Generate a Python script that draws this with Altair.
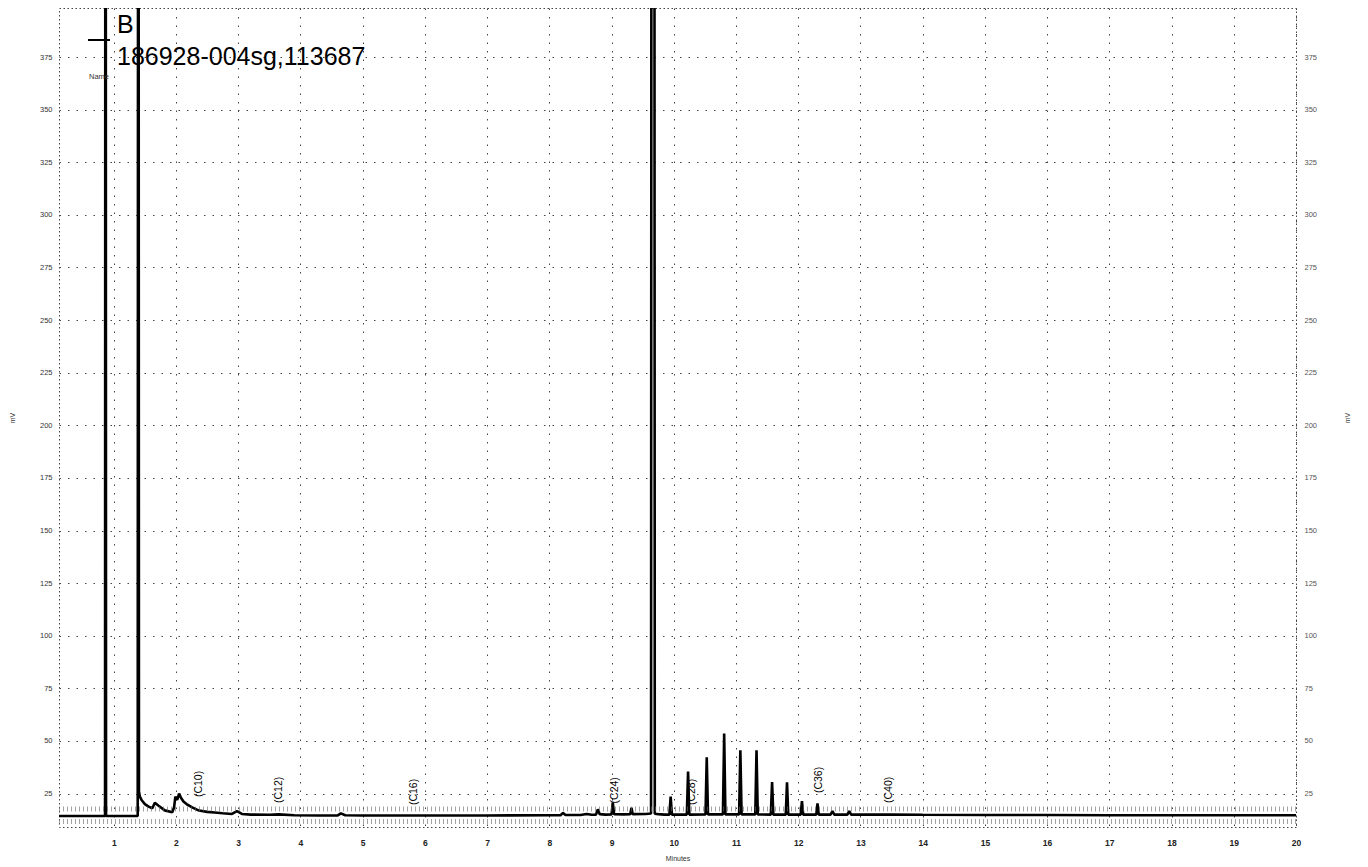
import altair as alt
import pandas as pd

# ---- data ----
trace_t = [0.12, 0.5, 0.86, 0.868, 0.876, 1.0, 1.385, 1.395, 1.405, 1.42, 1.45, 1.5, 1.56, 1.62,
           1.66, 1.72, 1.82, 1.94, 1.97, 1.99, 2.02, 2.05, 2.08, 2.12, 2.17, 2.26, 2.37, 2.5, 2.62,
           2.75, 2.9, 2.98, 3.06, 3.2, 3.5, 3.65, 3.9, 4.3, 4.6, 4.65, 4.72, 5.0, 6.0, 7.0, 8.0,
           8.18, 8.22, 8.26, 8.5, 8.6, 8.68, 8.75, 8.78, 8.81, 8.9, 9.0, 9.02, 9.04, 9.2, 9.3,
           9.32, 9.34, 9.55, 9.635, 9.665, 9.695, 9.75, 9.85, 9.93, 9.95, 9.97, 10.21, 10.23, 10.25,
           10.51, 10.53, 10.55, 10.79, 10.81, 10.83, 11.05, 11.07, 11.09, 11.31, 11.33, 11.35,
           11.56, 11.58, 11.60, 11.80, 11.82, 11.84, 12.04, 12.06, 12.08, 12.29, 12.31, 12.33,
           12.52, 12.55, 12.58, 12.79, 12.82, 12.85, 13.0, 13.5, 14.0, 15.0, 16.0, 17.0, 18.0,
           19.0, 20.0]
trace_mv = [14.3, 14.3, 14.3, 900, 14.3, 14.3, 14.3, 900, 26.0, 23.5, 21.8, 20.0, 18.8, 18.0,
            20.6, 19.2, 17.0, 16.1, 18.5, 23.5, 22.0, 25.0, 23.0, 21.2, 20.0, 18.4, 16.9, 16.3, 16.0,
            15.6, 15.3, 16.6, 15.3, 15.0, 14.9, 15.1, 14.7, 14.6, 14.6, 15.6, 14.7, 14.6, 14.6, 14.6, 14.7,
            14.7, 15.8, 14.8, 14.8, 15.3, 14.9, 15.0, 17.5, 15.2, 15.0, 15.1, 20.8, 15.2, 15.1, 15.2,
            18.3, 15.2, 15.3, 15.5, 2500, 15.4, 15.2, 15.0, 15.0, 23.5, 15.0, 15.0, 35.4, 15.0,
            15.1, 42.2, 15.1, 15.1, 53.5, 15.1, 15.1, 45.6, 15.1, 15.1, 45.6, 15.1,
            15.0, 30.5, 15.0, 15.0, 30.3, 15.0, 15.0, 21.4, 15.0, 15.0, 20.3, 15.0,
            15.0, 16.6, 15.0, 15.0, 16.6, 15.0, 15.0, 15.0, 14.9, 14.8, 14.8, 14.7, 14.7,
            14.7, 14.7]

peak_labels = ["(C10)", "(C12)", "(C16)", "(C24)", "(C28)", "(C36)", "(C40)"]
label_t = [2.37, 3.65, 5.82, 9.06, 10.30, 12.33, 13.46]
label_mv = [23.3, 20.5, 19.5, 20.3, 19.5, 25.2, 20.5]

band_mv = [17.6, 11.7]          # integration-mark band around the baseline

x_ticks = list(range(1, 21))
y_ticks = list(range(25, 400, 25))

legend_name = "B"
legend_sample = "186928-004sg,113687"
legend_header = "Name"

FONT = "Liberation Sans"

trace_df = pd.DataFrame({"t": trace_t, "mv": trace_mv, "i": list(range(len(trace_t)))})
label_df = pd.DataFrame({"t": label_t, "mv": label_mv, "label": peak_labels})
band_df = pd.DataFrame({"mv": band_mv})

xscale = alt.Scale(domain=[0.12, 20], nice=False, zero=False)
yscale = alt.Scale(domain=[9.1, 398.3], nice=False, zero=False)

xaxis = alt.Axis(values=x_ticks, format="d", title="Minutes", grid=True, gridDash=[1.5, 7],
                 gridColor="#444", gridWidth=1, ticks=False, domain=False, labelFlush=False,
                 labelFont=FONT, labelFontSize=8.5, labelFontWeight="bold", labelColor="#222",
                 labelPadding=11, titleFont=FONT, titleFontSize=7, titleFontWeight="normal",
                 titleColor="#333", titlePadding=8)
yaxis_left = alt.Axis(values=y_ticks, title="mV", orient="left", grid=True, gridDash=[1.5, 7],
                      gridColor="#444", gridWidth=1, ticks=False, domain=False,
                      labelFont=FONT, labelFontSize=7.5, labelColor="#333", labelPadding=7,
                      titleFont=FONT, titleFontSize=7, titleFontWeight="normal", titleColor="#333",
                      titleAngle=270, titlePadding=24)
yaxis_right = alt.Axis(values=y_ticks, title="mV", orient="right", grid=False, ticks=False,
                       domain=False, labelFont=FONT, labelFontSize=7.5, labelColor="#555",
                       labelPadding=8, titleFont=FONT, titleFontSize=7, titleFontWeight="normal",
                       titleColor="#444", titleAngle=270, titlePadding=34)

band = alt.Chart(band_df).mark_rule(color="#666", strokeWidth=5, strokeDash=[1, 3],
                                    opacity=0.6).encode(
    y=alt.Y("mv:Q", scale=yscale, axis=yaxis_right)
)

trace = alt.Chart(trace_df).mark_line(clip=True, color="black", strokeWidth=2.6,
                                      strokeJoin="bevel").encode(
    x=alt.X("t:Q", scale=xscale, axis=xaxis),
    y=alt.Y("mv:Q", scale=yscale, axis=yaxis_left),
    order=alt.Order("i:Q"),
)

labels = alt.Chart(label_df).mark_text(angle=270, align="left", baseline="middle", font=FONT,
                                       fontSize=10.5, color="black").encode(
    x=alt.X("t:Q", scale=xscale, axis=xaxis),
    y=alt.Y("mv:Q", scale=yscale, axis=None),
    text="label:N",
)

one = pd.DataFrame({"a": [0]})
legend_line = alt.Chart(one).mark_rule(color="black", strokeWidth=2).encode(
    x=alt.value(29), x2=alt.value(51), y=alt.value(32)
)
legend_b = alt.Chart(one).mark_text(text=legend_name, font=FONT, fontSize=25, align="left",
                                    baseline="alphabetic", color="black").encode(
    x=alt.value(58), y=alt.value(25)
)
legend_s = alt.Chart(one).mark_text(text=legend_sample, font=FONT, fontSize=25, align="left",
                                    baseline="alphabetic", color="black").encode(
    x=alt.value(58), y=alt.value(57)
)
legend_h = alt.Chart(one).mark_text(text=legend_header, font=FONT, fontSize=7.5, align="left",
                                    baseline="middle", color="#333").encode(
    x=alt.value(30), y=alt.value(69)
)

chart = alt.layer(trace, band, labels, legend_line, legend_b, legend_s, legend_h).resolve_scale(
    y="independent"
).properties(
    width=1237, height=819,
    autosize=alt.AutoSizeParams(type="none"),
    padding={"left": 51, "top": 0, "right": 64, "bottom": 38},
    background="white",
).configure_view(
    stroke="#444", strokeDash=[1.5, 2.5], strokeWidth=1
)

chart.save("out.html", embed_options={"renderer": "svg", "actions": False})
